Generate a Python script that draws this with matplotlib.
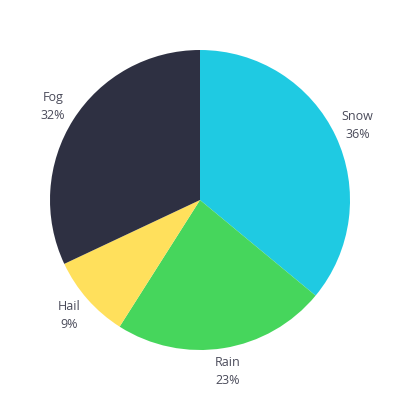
import numpy as np
import matplotlib.pyplot as plt

labels = ['Snow', 'Rain', 'Hail', 'Fog']
values = [36, 23, 9, 32]
colors = ['#1fcae2', '#46d65c', '#ffe05c', '#2e3042']

fig = plt.figure(figsize=(4, 4), dpi=100)
ax = fig.add_axes([0, 0, 1, 1])

wedges, _ = ax.pie(values, colors=colors, startangle=90, counterclock=False,
                   radius=1.0, wedgeprops=dict(linewidth=0))

for w, lab, v in zip(wedges, labels, values):
    ang = np.deg2rad((w.theta1 + w.theta2) / 2)
    x, y = 1.16 * np.cos(ang), 1.16 * np.sin(ang)
    ax.text(x, y, f'{lab}\n{v}%', ha='center', va='center', fontsize=9,
            color='#4a4b5a', family='Open Sans', linespacing=1.5)

ax.set_xlim(-200 / 150, 200 / 150)
ax.set_ylim(-200 / 150, 200 / 150)
ax.set_aspect('equal')
ax.axis('off')

plt.savefig('out.png', dpi=100)
